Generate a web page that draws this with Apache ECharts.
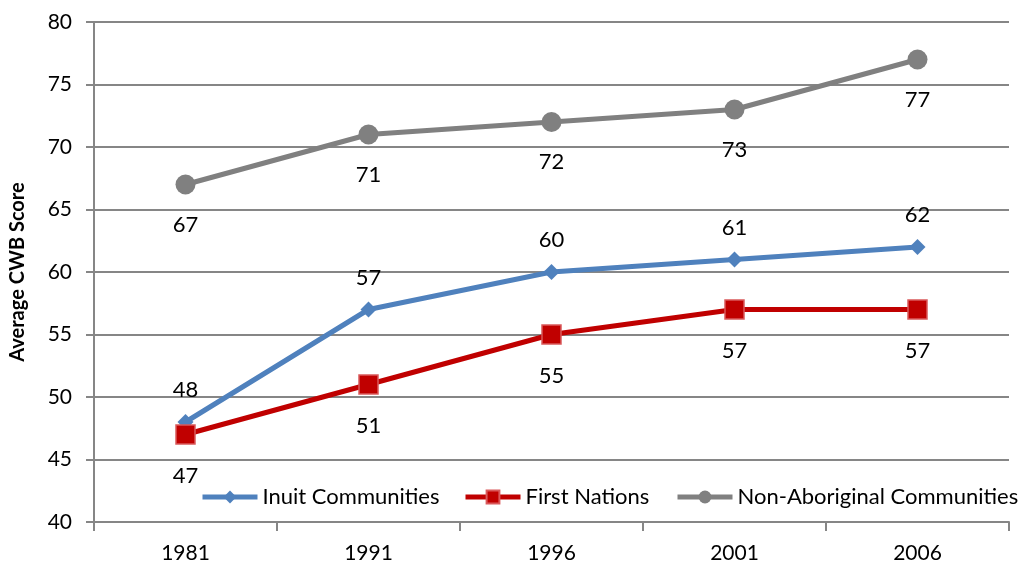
<!DOCTYPE html>
<html><head><meta charset="utf-8">
<script src="https://cdn.jsdelivr.net/npm/echarts@6/dist/echarts.min.js"></script>
<style>html,body{margin:0;padding:0;background:#fff}#c{width:1018px;height:563px}</style>
</head><body><div id="c"></div>
<script>
const years = ['1981','1991','1996','2001','2006'];
const inuit = [48, 57, 60, 61, 62];
const firstNations = [47, 51, 55, 57, 57];
const nonAboriginal = [67, 71, 72, 73, 77];
const seriesNames = ['Inuit Communities', 'First Nations', 'Non-Aboriginal Communities'];
const FONT = 'Lato';
const chart = echarts.init(document.getElementById('c'));
const lbl = (pos, dist) => ({show: true, position: pos, distance: dist, color: '#000', fontSize: 22, fontFamily: FONT});
const legendLefts = [200, 463, 675];
const legends = seriesNames.map((n, i) => ({
  left: legendLefts[i], top: 486, padding: 0, itemWidth: 55, itemHeight: 16,
  lineStyle: {width: 5},
  textStyle: {fontSize: 22, fontFamily: FONT, color: '#000'},
  data: [n]
}));
chart.setOption({
  animation: false,
  grid: {left: 94, right: 9, top: 22, bottom: 41, outerBoundsMode: 'none', containLabel: false},
  legend: legends,
  xAxis: {
    type: 'category', data: years, boundaryGap: true,
    axisLine: {lineStyle: {color: '#868686', width: 2}},
    axisTick: {show: true, length: 9, lineStyle: {color: '#868686', width: 2}},
    axisLabel: {fontSize: 21, fontFamily: FONT, color: '#000', margin: 21}
  },
  yAxis: {
    type: 'value', min: 40, max: 80, interval: 5,
    name: 'Average CWB Score', nameLocation: 'middle', nameGap: 66,
    nameTextStyle: {fontSize: 20, fontWeight: 'bold', fontFamily: FONT, color: '#000'},
    axisLine: {show: true, lineStyle: {color: '#868686', width: 2}},
    axisTick: {show: true, length: 8, lineStyle: {color: '#868686', width: 2}},
    splitLine: {lineStyle: {color: '#868686', width: 2}},
    axisLabel: {fontSize: 21, fontFamily: FONT, color: '#000', margin: 22}
  },
  series: [
    {name: seriesNames[0], type: 'line', data: inuit, symbol: 'diamond', symbolSize: 16,
     lineStyle: {color: '#4F81BD', width: 5}, itemStyle: {color: '#4F81BD'},
     label: lbl('top', 13)},
    {name: seriesNames[1], type: 'line', data: firstNations, symbol: 'rect', symbolSize: 19,
     lineStyle: {color: '#C00000', width: 5}, itemStyle: {color: '#C00000', borderColor: '#D9595B', borderWidth: 1.5},
     label: lbl('bottom', 20)},
    {name: seriesNames[2], type: 'line', data: nonAboriginal, symbol: 'circle', symbolSize: 20,
     lineStyle: {color: '#808080', width: 5}, itemStyle: {color: '#808080'},
     label: lbl('bottom', 19)}
  ]
});
</script></body></html>
